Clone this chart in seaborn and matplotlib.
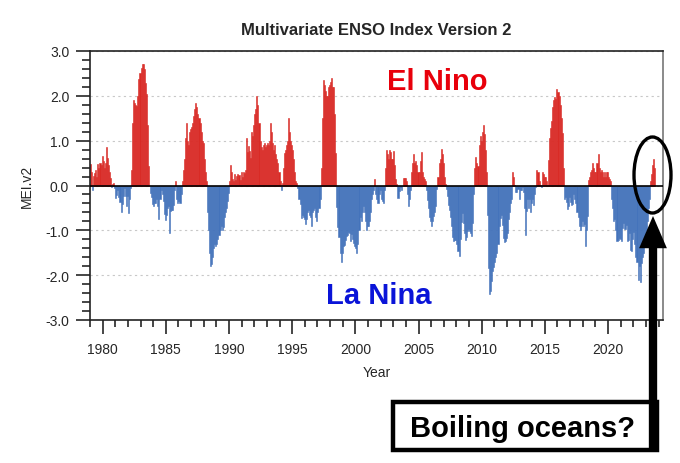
import matplotlib
matplotlib.use("Agg")
import matplotlib.pyplot as plt
from matplotlib.patches import Ellipse, Rectangle
from matplotlib.ticker import MultipleLocator, FormatStrFormatter
import numpy as np
import pandas as pd
import seaborn as sns

# monthly MEI.v2 values, starting Jan 1979
mei_1979_1989 = [
    0.47, 0.29, -0.10, 0.21, 0.27, 0.35, 0.20, 0.47, 0.38, 0.50, 0.45, 0.65,
    0.55, 0.40, 0.50, 0.85, 0.62, 0.45, 0.30, 0.17, -0.04, 0.04, 0.05, -0.06,
    -0.28, -0.21, -0.10, -0.25, -0.37, -0.60, -0.42, -0.24, -0.06, -0.24, -0.46, -0.23,
    -0.61, -0.31, -0.06, 0.35, 1.40, 1.90, 1.85, 1.80, 1.77, 1.99, 2.38, 2.50,
    2.63, 2.72, 2.72, 2.60, 2.28, 2.04, 1.36, 0.43, -0.01, -0.16, -0.26, -0.41,
    -0.45, -0.40, -0.40, -0.30, -0.45, -0.75, -0.30, -0.10, -0.20, -0.34, -0.63, -0.78,
    -0.66, -0.50, -0.45, -1.05, -0.57, -0.54, -0.55, -0.44, -0.09, 0.10, -0.30, -0.40,
    -0.35, -0.40, -0.20, 0.10, 0.35, 0.60, 1.05, 1.40, 1.00, 0.90, 1.20, 1.25,
    1.30, 1.40, 1.55, 1.70, 1.85, 1.75, 1.60, 1.50, 1.40, 1.20, 1.00, 0.95,
    0.60, 0.30, 0.10, -0.60, -1.00, -1.50, -1.80, -1.75, -1.60, -1.40, -1.30, -1.35,
    -1.30, -1.20, -1.10, -1.00, -0.90, -1.00, -0.92, -0.70, -0.60, -0.50, -0.34, -0.17,
]
mei_1990_1999 = [
    0.10, 0.45, 0.30, 0.15, 0.10, 0.25, 0.12, 0.22, 0.25, 0.23, 0.13, 0.29,
    0.20, 0.30, 0.28, 0.35, 1.05, 0.75, 0.87, 0.78, 0.62, 1.20, 1.10, 1.35,
    1.60, 1.70, 2.00, 1.80, 1.40, 1.00, 0.85, 0.80, 0.90, 0.95, 0.85, 0.90,
    0.95, 0.90, 1.00, 1.40, 1.20, 0.95, 0.80, 0.90, 0.70, 0.60, 0.50, 0.30,
    0.10, -0.10, 0.05, 0.40, 0.72, 0.80, 0.90, 1.00, 1.50, 1.20, 1.00, 0.90,
    0.80, 0.60, 0.30, 0.10, 0.05, -0.06, -0.30, -0.41, -0.72, -0.65, -0.70, -0.75,
    -0.85, -0.75, -0.60, -0.55, -0.65, -0.70, -0.90, -0.60, -0.55, -0.50, -0.70, -0.80,
    -0.60, -0.50, -0.30, 0.40, 1.50, 2.35, 2.25, 2.10, 2.00, 2.00, 2.20, 2.25,
    2.30, 2.40, 2.20, 2.20, 1.60, 0.72, -0.48, -0.93, -1.14, -1.50, -1.70, -1.50,
    -1.36, -1.33, -1.22, -1.12, -1.11, -1.03, -1.06, -1.23, -1.08, -1.20, -1.29, -1.34,
]
mei_2000_2009 = [
    -1.40, -1.50, -1.30, -1.00, -0.70, -0.80, -0.60, -0.45, -0.60, -0.80, -1.00, -0.90,
    -0.90, -0.80, -0.60, -0.30, -0.20, -0.10, 0.15, -0.20, -0.30, -0.40, -0.20, -0.10,
    -0.30, -0.35, -0.40, -0.10, 0.40, 0.80, 0.70, 0.60, 0.80, 0.75, 0.60, 0.60,
    0.76, 0.45, 0.14, 0.03, -0.27, -0.13, -0.04, -0.11, -0.01, 0.17, 0.16, 0.16,
    0.10, -0.20, -0.45, -0.30, -0.10, 0.30, 0.50, 0.70, 0.50, 0.55, 0.45, 0.30,
    0.30, 0.55, 0.75, 0.30, 0.20, 0.15, 0.10, -0.10, -0.33, -0.50, -0.70, -0.80,
    -0.90, -0.80, -0.69, -0.60, -0.46, -0.07, 0.20, 0.50, 0.60, 0.82, 0.70, 0.50,
    0.20, 0.03, -0.08, -0.23, -0.44, -0.54, -0.70, -0.90, -1.15, -1.23, -1.21, -1.21,
    -1.30, -1.45, -1.57, -1.20, -0.82, -0.62, -0.84, -1.07, -1.22, -1.15, -1.02, -0.98,
    -1.01, -1.05, -1.12, -0.84, -0.18, 0.40, 0.63, 0.50, 0.44, 0.90, 1.10, 1.00,
]
mei_2010_2019 = [
    1.20, 1.35, 1.14, 0.80, 0.30, -0.65, -1.85, -2.42, -2.35, -2.13, -1.91, -1.81,
    -1.70, -1.60, -1.50, -1.30, -0.90, -0.73, -0.65, -0.88, -1.17, -1.27, -1.24, -1.17,
    -1.05, -0.74, -0.58, -0.39, -0.30, 0.30, 0.20, 0.01, -0.15, -0.14, -0.08, -0.30,
    -0.10, -0.10, -0.03, -0.14, -0.50, -1.10, -0.57, -0.31, -0.50, -0.30, -0.60, -0.40,
    -0.30, -0.43, -0.18, -0.04, 0.35, 0.30, 0.10, 0.01, -0.03, 0.30, 0.25, 0.20,
    0.20, 0.11, 0.02, 0.57, 1.06, 1.29, 1.43, 1.75, 1.91, 1.98, 1.94, 2.15,
    2.09, 1.99, 1.79, 1.50, 1.16, 0.39, -0.30, -0.26, -0.36, -0.52, -0.45, -0.26,
    -0.37, -0.44, -0.41, -0.20, -0.30, -0.38, -0.60, -0.70, -0.90, -1.00, -0.90, -0.80,
    -0.90, -0.85, -1.35, -1.00, -0.68, 0.12, 0.20, 0.30, 0.35, 0.50, 0.40, 0.30,
    0.30, 0.50, 0.70, 0.40, 0.30, 0.35, 0.30, 0.20, 0.30, 0.20, 0.30, 0.30,
]
mei_2020_2023 = [
    0.20, 0.15, 0.10, -0.30, -0.50, -0.80, -0.75, -1.00, -1.23, -1.22, -1.16, -1.19,
    -1.24, -0.94, -0.84, -0.96, -0.98, -0.88, -1.23, -1.21, -1.05, -1.44, -1.47, -1.20,
    -1.03, -1.30, -1.60, -1.70, -2.10, -1.80, -2.16, -1.73, -1.60, -1.50, -1.30, -1.20,
    -1.00, -0.80, -0.50, -0.30, 0.10, 0.25, 0.45, 0.60, 0.40,
]

first_year = 1979
year_ticks = [1980, 1985, 1990, 1995, 2000, 2005, 2010, 2015, 2020]
red = "#d92b26"
blue = "#4473bb"

mei = np.array(mei_1979_1989 + mei_1990_1999 + mei_2000_2009 + mei_2010_2019 + mei_2020_2023)
months = np.arange(len(mei))
df = pd.DataFrame({
    "year": np.round(first_year + months / 12 + 1 / 24, 4),
    "mei": mei,
    "phase": np.where(mei >= 0, "El Nino", "La Nina"),
})

sns.set_style("ticks")
plt.rcParams["font.family"] = ["Liberation Sans", "DejaVu Sans"]

fig = plt.figure(figsize=(6.8, 4.64), dpi=100)
ax = fig.add_axes([90 / 680, 1 - 321 / 464, (663 - 90) / 680, (321 - 52) / 464])

sns.barplot(data=df, x="year", y="mei", hue="phase",
            palette={"El Nino": red, "La Nina": blue}, saturation=1,
            native_scale=True, dodge=False, width=1.0, errorbar=None,
            legend=False, linewidth=0, ax=ax)
# close the hairline gaps between neighbouring months
for bar in ax.patches:
    bar.set_edgecolor(bar.get_facecolor())
    bar.set_linewidth(0.4)

ax.axhline(0, color="black", lw=1.2, zorder=3)
ax.set_xlim(1979, 2024.35)
ax.set_ylim(-3, 3)
ax.set_xticks(year_ticks)
ax.xaxis.set_minor_locator(MultipleLocator(1))
ax.yaxis.set_major_locator(MultipleLocator(1))
ax.yaxis.set_minor_locator(MultipleLocator(0.2))
ax.yaxis.set_major_formatter(FormatStrFormatter("%.1f"))
ax.grid(axis="y", which="major", color="#c8c8c8", linestyle=(0, (2, 3)), lw=0.8)
ax.grid(axis="x", visible=False)

ax.tick_params(axis="x", which="major", length=10, width=1.2, pad=6, labelsize=10)
ax.tick_params(axis="x", which="minor", length=5, width=1.2)
ax.tick_params(axis="y", which="major", length=10, width=1.2, pad=5, labelsize=10)
ax.tick_params(axis="y", which="minor", length=6, width=1.2)
for side in ax.spines:
    ax.spines[side].set_color("#222222")
    ax.spines[side].set_linewidth(1.2)
ax.spines["right"].set_color("#777777")

ax.set_xlabel("Year", fontsize=10, labelpad=6)
ax.set_ylabel("MEI.v2", fontsize=10, labelpad=8)
ax.set_title("Multivariate ENSO Index Version 2", fontsize=12, fontweight="bold", pad=12)

# annotations
fig.text(437 / 680, 1 - 90 / 464, "El Nino", color="#e8000b", fontsize=21,
         fontweight="bold", ha="center", va="baseline")
fig.text(379 / 680, 1 - 304 / 464, "La Nina", color="#0a14d8", fontsize=21,
         fontweight="bold", ha="center", va="baseline")

fig.add_artist(Ellipse((652.5 / 680, 1 - 176 / 464), 37 / 680, 76 / 464,
                       transform=fig.transFigure, fill=False, ec="black", lw=2.4))
fig.add_artist(Rectangle((393 / 680, 1 - 451 / 464), (657 - 393) / 680, 48 / 464,
                         transform=fig.transFigure, fill=False, ec="black", lw=3.2))
fig.text(523 / 680, 1 - 437 / 464, "Boiling oceans?", color="black", fontsize=21,
         fontweight="bold", ha="center", va="baseline")
ax.annotate("", xy=(653 / 680, 1 - 217 / 464), xytext=(653 / 680, 1 - 453 / 464),
            xycoords="figure fraction", textcoords="figure fraction",
            arrowprops=dict(arrowstyle="simple,head_length=0.58,head_width=0.5,tail_width=0.15",
                            mutation_scale=40, fc="black", ec="none", lw=0,
                            shrinkA=0, shrinkB=0),
            annotation_clip=False)

fig.savefig("out.png", dpi=100)
